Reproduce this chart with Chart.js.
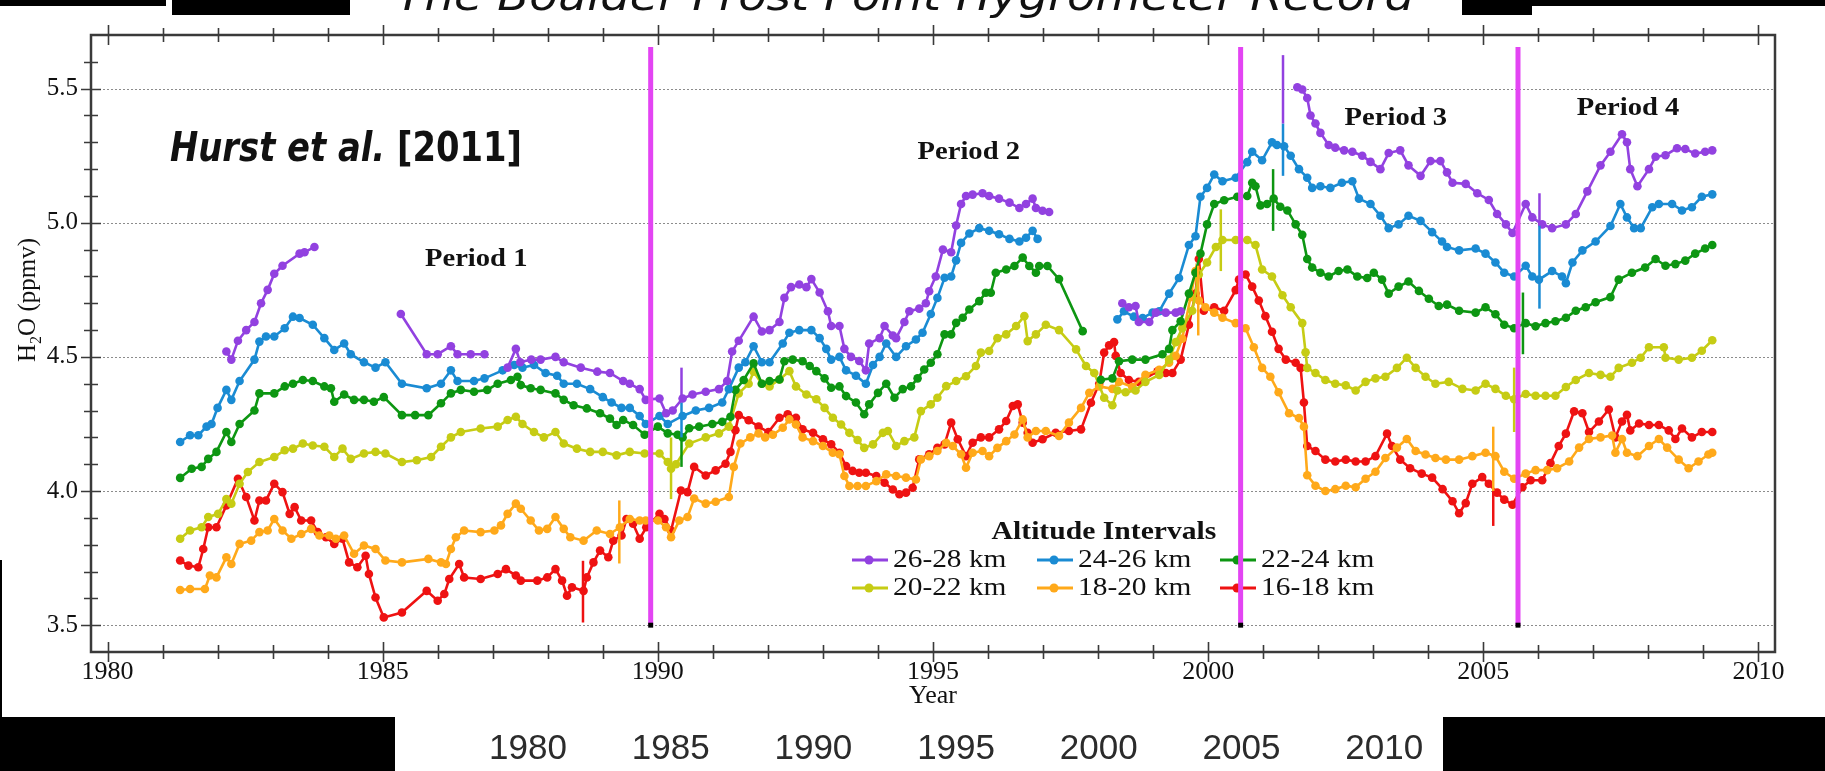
<!DOCTYPE html>
<html>
<head>
<meta charset="utf-8">
<title>Boulder FPH record</title>
<script src="https://cdn.jsdelivr.net/npm/chart.js@4.4.1/dist/chart.umd.min.js"></script>
<style>
  html, body { margin: 0; padding: 0; background: #fff; }
  body { width: 1825px; height: 771px; position: relative; overflow: hidden; }
  #c { position: absolute; left: 0; top: 0; }
  .blk { position: absolute; background: #000; }
  #ttl {
    position: absolute; left: 396px; top: -24px;
    font: italic 40px "DejaVu Sans"; line-height: 40px;
    white-space: nowrap; color: #111; transform-origin: 0 0;
  }
  .strip {
    position: absolute; top: 729px; width: 120px; margin-left: -60px;
    text-align: center; font: 35px "Liberation Sans"; line-height: 36px; color: #2b2b2b;
  }
</style>
</head>
<body>
<canvas id="c" width="1825" height="771"></canvas>
<div class="blk" style="left:0;top:0;width:166px;height:6px"></div>
<div class="blk" style="left:172px;top:0;width:178px;height:15px"></div>
<div id="ttl">The Boulder Frost Point Hygrometer Record</div>
<div class="blk" style="left:1462px;top:0;width:70px;height:15px"></div>
<div class="blk" style="left:1532px;top:0;width:293px;height:6px"></div>
<div class="blk" style="left:0;top:560px;width:2px;height:157px"></div>
<div class="blk" style="left:0;top:717px;width:395px;height:54px"></div>
<div class="blk" style="left:1443px;top:717px;width:382px;height:54px"></div>
<div id="stripRow"></div>
<script>
// axis ticks
const xTickYears = [1980, 1985, 1990, 1995, 2000, 2005, 2010];
const yTickVals = [3.5, 4.0, 4.5, 5.0, 5.5];
const stripYears = [1980, 1985, 1990, 1995, 2000, 2005, 2010];

// altitude bands, legend order
const bandLabels = ['26-28 km', '24-26 km', '22-24 km', '20-22 km', '18-20 km', '16-18 km'];
const bandColors = ['#9241e0', '#1a8bd3', '#0d9612', '#c6cc14', '#ffa91a', '#ee1212'];

// [year, ppmv]; null breaks the line
const alt26_28 = [
  [1982.16,4.52],[1982.25,4.49],[1982.37,4.56],[1982.52,4.60],[1982.67,4.63],[1982.79,4.70],[1982.91,4.75],
  [1983.03,4.81],[1983.18,4.84],[1983.49,4.885],[1983.58,4.89],[1983.76,4.91],[1984.5,null],
  [1985.33,4.66],[1985.8,4.51],[1986.0,4.51],[1986.24,4.54],[1986.36,4.51],[1986.6,4.51],[1986.85,4.51],[1987.05,null],
  [1987.27,4.46],[1987.42,4.53],[1987.5,4.48],[1987.7,4.49],[1987.87,4.49],[1988.14,4.50],[1988.29,4.48],[1988.6,4.46],
  [1988.9,4.445],[1989.13,4.44],[1989.37,4.41],[1989.49,4.40],[1989.67,4.38],[1989.78,4.34],[1990.03,4.345],[1990.15,4.29],
  [1990.27,4.30],[1990.45,4.345],[1990.63,4.36],[1990.87,4.37],[1991.11,4.38],[1991.26,4.41],[1991.35,4.52],[1991.47,4.56],
  [1991.74,4.65],[1991.89,4.595],[1992.03,4.60],[1992.21,4.63],[1992.3,4.72],[1992.42,4.76],[1992.57,4.77],[1992.7,4.76],
  [1992.79,4.79],[1992.94,4.74],[1993.09,4.67],[1993.15,4.615],[1993.3,4.615],[1993.39,4.53],[1993.51,4.50],[1993.66,4.485],
  [1993.78,4.45],[1993.84,4.55],[1994.03,4.57],[1994.12,4.615],[1994.27,4.58],[1994.33,4.57],[1994.48,4.63],[1994.57,4.67],
  [1994.75,4.68],[1994.87,4.70],[1994.93,4.745],[1995.05,4.80],[1995.18,4.90],[1995.33,4.89],[1995.42,4.99],[1995.51,5.07],
  [1995.6,5.10],[1995.72,5.105],[1995.9,5.11],[1996.02,5.10],[1996.2,5.09],[1996.39,5.075],[1996.57,5.055],[1996.69,5.07],
  [1996.81,5.09],[1996.87,5.055],[1996.99,5.045],[1997.11,5.04],[1997.8,null],
  [1998.44,4.70],[1998.56,4.685],[1998.68,4.69],[1998.74,4.63],[1998.93,4.63],[1999.05,4.665],[1999.23,4.665],[1999.41,4.665],
  [1999.5,4.67],[2000.5,null],
  [2001.62,5.505],[2001.71,5.497],[2001.8,5.465],[2001.86,5.40],[2001.95,5.37],[2002.04,5.335],[2002.19,5.29],[2002.31,5.28],
  [2002.47,5.27],[2002.62,5.265],[2002.8,5.25],[2002.95,5.227],[2003.13,5.20],[2003.28,5.26],[2003.49,5.27],[2003.64,5.214],
  [2003.86,5.175],[2004.04,5.23],[2004.22,5.23],[2004.34,5.188],[2004.44,5.149],[2004.68,5.145],[2004.89,5.11],[2005.1,5.085],
  [2005.25,5.033],[2005.41,4.994],[2005.53,4.962],[2005.77,5.07],[2005.89,5.02],[2006.07,4.994],[2006.25,4.98],[2006.5,4.994],
  [2006.68,5.033],[2006.89,5.117],[2007.13,5.214],[2007.31,5.265],[2007.52,5.33],[2007.61,5.30],[2007.67,5.20],[2007.8,5.136],
  [2008.01,5.20],[2008.13,5.246],[2008.31,5.252],[2008.52,5.278],[2008.67,5.275],[2008.85,5.258],[2009.03,5.265],[2009.16,5.27]
];

const alt24_26 = [
  [1981.32,4.183],[1981.5,4.208],[1981.65,4.208],[1981.8,4.24],[1981.89,4.25],[1982.0,4.31],[1982.16,4.377],[1982.25,4.34],
  [1982.4,4.41],[1982.67,4.49],[1982.76,4.557],[1982.88,4.576],[1983.03,4.576],[1983.22,4.607],[1983.37,4.65],[1983.49,4.645],
  [1983.73,4.62],[1983.94,4.57],[1984.12,4.526],[1984.3,4.55],[1984.42,4.51],[1984.66,4.48],[1984.87,4.46],[1985.05,4.48],
  [1985.35,4.40],[1985.8,4.383],[1986.06,4.40],[1986.24,4.45],[1986.36,4.41],[1986.66,4.41],[1986.85,4.42],[1987.18,4.45],
  [1987.39,4.47],[1987.54,4.46],[1987.75,4.47],[1987.96,4.44],[1988.17,4.43],[1988.29,4.40],[1988.53,4.40],[1988.77,4.38],
  [1989.0,4.35],[1989.16,4.33],[1989.34,4.31],[1989.49,4.31],[1989.67,4.28],[1989.78,4.25],[1990.03,4.28],[1990.18,4.25],
  [1990.45,4.28],[1990.69,4.30],[1990.93,4.31],[1991.17,4.33],[1991.29,4.38],[1991.47,4.46],[1991.59,4.48],[1991.74,4.54],
  [1991.89,4.48],[1992.03,4.48],[1992.27,4.55],[1992.39,4.59],[1992.57,4.60],[1992.79,4.60],[1992.94,4.57],[1993.06,4.53],
  [1993.15,4.49],[1993.3,4.50],[1993.42,4.45],[1993.6,4.43],[1993.78,4.40],[1993.91,4.47],[1994.03,4.50],[1994.15,4.55],
  [1994.33,4.50],[1994.51,4.54],[1994.69,4.565],[1994.81,4.59],[1994.96,4.66],[1995.08,4.72],[1995.21,4.795],[1995.33,4.80],
  [1995.42,4.86],[1995.51,4.925],[1995.66,4.96],[1995.84,4.98],[1996.02,4.97],[1996.2,4.957],[1996.39,4.94],[1996.57,4.93],
  [1996.69,4.944],[1996.81,4.97],[1996.9,4.94],[1997.6,null],
  [1998.35,4.64],[1998.47,4.67],[1998.65,4.65],[1998.81,4.645],[1998.99,4.665],[1999.11,4.67],[1999.29,4.736],[1999.47,4.794],
  [1999.65,4.917],[1999.77,4.95],[1999.86,5.097],[1999.98,5.13],[2000.11,5.18],[2000.26,5.155],[2000.5,5.168],[2000.71,5.226],
  [2000.8,5.265],[2000.98,5.233],[2001.16,5.30],[2001.25,5.29],[2001.38,5.285],[2001.5,5.25],[2001.65,5.20],[2001.8,5.168],
  [2001.89,5.13],[2002.04,5.136],[2002.22,5.13],[2002.43,5.149],[2002.62,5.155],[2002.74,5.09],[2002.95,5.07],[2003.13,5.026],
  [2003.28,4.98],[2003.46,4.994],[2003.64,5.026],[2003.86,5.007],[2004.07,4.965],[2004.25,4.93],[2004.34,4.91],[2004.56,4.897],
  [2004.86,4.904],[2005.04,4.885],[2005.22,4.852],[2005.38,4.814],[2005.56,4.80],[2005.77,4.84],[2005.89,4.80],[2006.01,4.788],
  [2006.25,4.82],[2006.43,4.80],[2006.5,4.775],[2006.62,4.852],[2006.8,4.897],[2007.04,4.93],[2007.31,4.988],[2007.49,5.07],
  [2007.61,5.02],[2007.74,4.98],[2007.86,4.98],[2008.07,5.058],[2008.19,5.07],[2008.43,5.07],[2008.61,5.046],[2008.79,5.058],
  [2008.97,5.097],[2009.16,5.106]
];

const alt22_24 = [
  [1981.32,4.049],[1981.53,4.083],[1981.71,4.09],[1981.83,4.12],[1981.98,4.146],[1982.16,4.22],[1982.25,4.183],[1982.4,4.25],
  [1982.67,4.30],[1982.76,4.364],[1983.03,4.364],[1983.22,4.39],[1983.37,4.40],[1983.55,4.414],[1983.73,4.41],[1983.94,4.39],
  [1984.06,4.383],[1984.12,4.333],[1984.3,4.36],[1984.48,4.34],[1984.66,4.34],[1984.84,4.333],[1985.02,4.35],[1985.35,4.283],
  [1985.59,4.283],[1985.83,4.283],[1986.06,4.327],[1986.24,4.364],[1986.42,4.377],[1986.66,4.37],[1986.9,4.377],[1987.09,4.40],
  [1987.33,4.414],[1987.45,4.426],[1987.51,4.395],[1987.69,4.383],[1987.87,4.377],[1988.14,4.364],[1988.29,4.34],[1988.47,4.32],
  [1988.71,4.308],[1988.95,4.29],[1989.13,4.27],[1989.25,4.246],[1989.37,4.265],[1989.55,4.246],[1989.76,4.21],[1990.0,4.24],
  [1990.18,4.215],[1990.36,4.21],[1990.45,4.20],[1990.57,4.234],[1990.75,4.24],[1990.99,4.25],[1991.17,4.258],[1991.32,4.277],
  [1991.41,4.377],[1991.56,4.414],[1991.74,4.476],[1991.89,4.40],[1992.03,4.41],[1992.21,4.416],[1992.3,4.484],[1992.45,4.49],
  [1992.63,4.484],[1992.76,4.466],[1992.88,4.447],[1993.03,4.42],[1993.15,4.385],[1993.3,4.39],[1993.42,4.354],[1993.6,4.33],
  [1993.75,4.286],[1993.84,4.323],[1994.0,4.366],[1994.15,4.40],[1994.3,4.348],[1994.45,4.38],[1994.6,4.39],[1994.72,4.42],
  [1994.84,4.453],[1994.96,4.478],[1995.08,4.51],[1995.21,4.584],[1995.33,4.584],[1995.42,4.627],[1995.54,4.646],[1995.66,4.677],
  [1995.84,4.708],[1995.96,4.739],[1996.05,4.739],[1996.14,4.814],[1996.33,4.826],[1996.48,4.839],[1996.63,4.87],[1996.75,4.839],
  [1996.87,4.814],[1996.93,4.839],[1997.08,4.839],[1997.29,4.79],[1997.72,4.596],[1997.9,null],
  [1998.05,4.415],[1998.26,4.42],[1998.38,4.484],[1998.62,4.49],[1998.86,4.49],[1999.17,4.51],[1999.29,4.53],[1999.35,4.60],
  [1999.5,4.633],[1999.65,4.736],[1999.77,4.814],[1999.86,4.885],[1999.98,4.994],[2000.11,5.07],[2000.29,5.084],[2000.53,5.097],
  [2000.71,5.10],[2000.8,5.149],[2000.86,5.136],[2000.95,5.065],[2001.07,5.07],[2001.19,5.09],[2001.31,5.06],[2001.44,5.046],
  [2001.59,4.994],[2001.71,4.955],[2001.8,4.865],[2001.89,4.833],[2002.04,4.814],[2002.19,4.80],[2002.37,4.82],[2002.53,4.826],
  [2002.71,4.80],[2002.89,4.794],[2003.01,4.814],[2003.16,4.788],[2003.28,4.736],[2003.46,4.762],[2003.64,4.781],[2003.83,4.746],
  [2004.01,4.717],[2004.19,4.69],[2004.34,4.695],[2004.56,4.672],[2004.86,4.665],[2005.04,4.685],[2005.22,4.659],[2005.38,4.62],
  [2005.56,4.607],[2005.77,4.626],[2005.95,4.614],[2006.13,4.626],[2006.31,4.633],[2006.5,4.646],[2006.68,4.672],[2006.86,4.685],
  [2007.04,4.704],[2007.31,4.723],[2007.46,4.788],[2007.7,4.814],[2007.94,4.833],[2008.13,4.865],[2008.31,4.84],[2008.49,4.846],
  [2008.67,4.859],[2008.85,4.885],[2009.03,4.904],[2009.16,4.917]
];

const alt20_22 = [
  [1981.32,3.822],[1981.5,3.853],[1981.71,3.865],[1981.83,3.903],[1982.01,3.915],[1982.16,3.97],[1982.25,3.953],[1982.4,4.027],
  [1982.55,4.071],[1982.76,4.108],[1983.03,4.127],[1983.22,4.152],[1983.37,4.158],[1983.55,4.177],[1983.73,4.17],[1983.94,4.165],
  [1984.12,4.127],[1984.27,4.158],[1984.42,4.12],[1984.66,4.14],[1984.87,4.146],[1985.05,4.14],[1985.35,4.108],[1985.62,4.115],
  [1985.88,4.127],[1986.06,4.165],[1986.24,4.20],[1986.42,4.22],[1986.78,4.233],[1987.09,4.24],[1987.27,4.265],[1987.42,4.277],
  [1987.54,4.25],[1987.75,4.22],[1987.93,4.20],[1988.14,4.22],[1988.29,4.177],[1988.53,4.158],[1988.77,4.146],[1989.0,4.146],
  [1989.25,4.133],[1989.49,4.146],[1989.76,4.14],[1990.03,4.14],[1990.18,4.108],[1990.24,4.083],[1990.33,4.10],[1990.57,4.177],
  [1990.87,4.20],[1991.11,4.215],[1991.29,4.24],[1991.47,4.364],[1991.65,4.40],[1991.74,4.445],[1991.89,4.40],[1992.03,4.39],
  [1992.21,4.416],[1992.39,4.447],[1992.51,4.39],[1992.7,4.36],[1992.88,4.342],[1993.03,4.31],[1993.18,4.273],[1993.33,4.248],
  [1993.48,4.217],[1993.63,4.19],[1993.75,4.161],[1993.91,4.174],[1994.09,4.217],[1994.18,4.224],[1994.33,4.168],[1994.48,4.186],
  [1994.66,4.20],[1994.78,4.298],[1994.96,4.323],[1995.08,4.348],[1995.24,4.391],[1995.42,4.41],[1995.6,4.428],[1995.78,4.466],
  [1995.87,4.516],[1996.02,4.522],[1996.17,4.57],[1996.33,4.584],[1996.51,4.615],[1996.66,4.652],[1996.72,4.559],[1996.87,4.584],
  [1997.05,4.62],[1997.29,4.60],[1997.6,4.528],[1997.78,4.466],[1997.93,4.44],[1998.11,4.348],[1998.26,4.32],[1998.35,4.375],
  [1998.5,4.368],[1998.68,4.375],[1998.86,4.407],[1999.11,4.433],[1999.29,4.49],[1999.41,4.555],[1999.53,4.607],[1999.71,4.672],
  [1999.83,4.807],[1999.98,4.852],[2000.14,4.91],[2000.26,4.936],[2000.5,4.936],[2000.71,4.936],[2000.86,4.917],[2000.98,4.826],
  [2001.16,4.80],[2001.35,4.73],[2001.5,4.685],[2001.71,4.626],[2001.77,4.517],[2001.8,4.459],[2001.95,4.44],[2002.13,4.414],
  [2002.31,4.40],[2002.5,4.394],[2002.68,4.375],[2002.86,4.407],[2003.04,4.42],[2003.22,4.426],[2003.43,4.459],[2003.61,4.497],
  [2003.77,4.459],[2003.95,4.426],[2004.13,4.40],[2004.37,4.407],[2004.62,4.381],[2004.86,4.375],[2005.04,4.40],[2005.22,4.381],
  [2005.41,4.355],[2005.56,4.342],[2005.77,4.362],[2005.95,4.355],[2006.13,4.355],[2006.31,4.355],[2006.5,4.388],[2006.68,4.414],
  [2006.92,4.44],[2007.13,4.433],[2007.31,4.426],[2007.46,4.459],[2007.7,4.478],[2007.86,4.497],[2008.01,4.536],[2008.28,4.536],
  [2008.31,4.497],[2008.55,4.49],[2008.79,4.497],[2008.97,4.523],[2009.16,4.562]
];

const alt18_20 = [
  [1981.32,3.631],[1981.5,3.635],[1981.77,3.635],[1981.86,3.685],[1981.98,3.678],[1982.16,3.753],[1982.25,3.728],[1982.4,3.803],
  [1982.61,3.815],[1982.76,3.847],[1982.91,3.853],[1983.03,3.896],[1983.18,3.853],[1983.34,3.822],[1983.52,3.84],[1983.7,3.859],
  [1983.85,3.834],[1984.03,3.834],[1984.15,3.822],[1984.3,3.834],[1984.48,3.766],[1984.66,3.797],[1984.87,3.784],[1985.05,3.741],
  [1985.35,3.734],[1985.83,3.747],[1986.06,3.734],[1986.15,3.728],[1986.24,3.784],[1986.33,3.828],[1986.48,3.853],[1986.78,3.847],
  [1987.03,3.853],[1987.15,3.872],[1987.27,3.915],[1987.42,3.953],[1987.51,3.934],[1987.69,3.89],[1987.84,3.853],[1987.99,3.859],
  [1988.14,3.903],[1988.29,3.859],[1988.41,3.828],[1988.65,3.815],[1988.89,3.853],[1989.13,3.84],[1989.31,3.865],[1989.49,3.896],
  [1989.67,3.89],[1989.78,3.89],[1990.0,3.89],[1990.15,3.865],[1990.24,3.828],[1990.39,3.89],[1990.54,3.903],[1990.66,3.972],
  [1990.87,3.953],[1991.05,3.96],[1991.29,3.978],[1991.38,4.09],[1991.5,4.177],[1991.68,4.20],[1991.83,4.215],[1991.95,4.20],
  [1992.09,4.21],[1992.27,4.236],[1992.39,4.267],[1992.51,4.248],[1992.63,4.20],[1992.82,4.186],[1993.0,4.168],[1993.18,4.143],
  [1993.3,4.137],[1993.39,4.056],[1993.48,4.019],[1993.63,4.019],[1993.78,4.019],[1993.97,4.037],[1994.15,4.062],[1994.33,4.056],
  [1994.51,4.05],[1994.69,4.043],[1994.78,4.118],[1994.93,4.13],[1995.08,4.149],[1995.24,4.18],[1995.36,4.168],[1995.51,4.137],
  [1995.6,4.087],[1995.72,4.143],[1995.9,4.149],[1996.02,4.13],[1996.17,4.161],[1996.33,4.186],[1996.48,4.211],[1996.63,4.267],
  [1996.72,4.20],[1996.87,4.224],[1997.05,4.224],[1997.29,4.205],[1997.47,4.255],[1997.69,4.31],[1997.84,4.366],[1998.02,4.39],
  [1998.26,4.381],[1998.38,4.407],[1998.62,4.388],[1998.86,4.433],[1999.11,4.452],[1999.29,4.478],[1999.41,4.504],[1999.53,4.568],
  [1999.68,4.723],[1999.77,4.82],[1999.83,4.71],[1999.95,4.685],[2000.11,4.665],[2000.26,4.646],[2000.5,4.626],[2000.68,4.607],
  [2000.83,4.536],[2000.98,4.459],[2001.13,4.426],[2001.28,4.368],[2001.47,4.29],[2001.65,4.272],[2001.74,4.24],[2001.8,4.059],
  [2001.95,4.02],[2002.13,4.0],[2002.31,4.007],[2002.5,4.02],[2002.68,4.014],[2002.86,4.046],[2003.04,4.072],[2003.22,4.123],
  [2003.43,4.162],[2003.61,4.194],[2003.77,4.149],[2003.95,4.136],[2004.13,4.123],[2004.32,4.117],[2004.56,4.117],[2004.8,4.13],
  [2005.04,4.143],[2005.22,4.13],[2005.38,4.072],[2005.56,4.046],[2005.77,4.065],[2005.95,4.078],[2006.16,4.078],[2006.34,4.085],
  [2006.56,4.11],[2006.74,4.162],[2006.92,4.194],[2007.13,4.20],[2007.34,4.207],[2007.4,4.143],[2007.52,4.194],[2007.61,4.143],
  [2007.8,4.13],[2008.01,4.168],[2008.19,4.194],[2008.34,4.162],[2008.55,4.117],[2008.73,4.085],[2008.91,4.11],[2009.09,4.136],
  [2009.16,4.143]
];

const alt16_18 = [
  [1981.32,3.741],[1981.47,3.722],[1981.65,3.716],[1981.74,3.784],[1981.83,3.865],[1981.98,3.865],[1982.16,3.946],[1982.37,4.046],
  [1982.52,3.978],[1982.67,3.89],[1982.76,3.965],[1982.88,3.965],[1983.03,4.027],[1983.18,3.996],[1983.31,3.915],[1983.4,3.94],
  [1983.52,3.89],[1983.7,3.89],[1983.82,3.847],[1983.97,3.828],[1984.12,3.803],[1984.27,3.822],[1984.39,3.734],[1984.54,3.716],
  [1984.69,3.759],[1984.75,3.691],[1984.87,3.603],[1985.02,3.529],[1985.35,3.547],[1985.8,3.628],[1986.0,3.591],[1986.12,3.616],
  [1986.21,3.672],[1986.39,3.728],[1986.48,3.678],[1986.78,3.672],[1987.09,3.691],[1987.24,3.709],[1987.42,3.685],[1987.51,3.666],
  [1987.81,3.666],[1987.99,3.678],[1988.14,3.709],[1988.26,3.666],[1988.35,3.61],[1988.44,3.641],[1988.65,3.628],[1988.71,3.678],
  [1988.83,3.734],[1988.95,3.778],[1989.1,3.753],[1989.19,3.815],[1989.34,3.834],[1989.43,3.896],[1989.55,3.878],[1989.67,3.822],
  [1989.79,3.865],[1990.03,3.915],[1990.12,3.896],[1990.24,3.853],[1990.42,4.002],[1990.54,3.996],[1990.66,4.09],[1990.87,4.058],
  [1991.05,4.077],[1991.23,4.102],[1991.32,4.146],[1991.41,4.227],[1991.47,4.283],[1991.65,4.264],[1991.83,4.24],[1992.01,4.22],
  [1992.21,4.273],[1992.36,4.286],[1992.51,4.273],[1992.63,4.23],[1992.82,4.217],[1993.0,4.193],[1993.15,4.174],[1993.3,4.143],
  [1993.42,4.093],[1993.54,4.075],[1993.66,4.068],[1993.78,4.068],[1993.97,4.056],[1994.12,4.031],[1994.27,4.006],[1994.39,3.988],
  [1994.51,3.994],[1994.63,4.012],[1994.75,4.118],[1994.93,4.137],[1995.08,4.161],[1995.21,4.174],[1995.33,4.255],[1995.45,4.193],
  [1995.6,4.13],[1995.72,4.18],[1995.87,4.20],[1996.02,4.20],[1996.2,4.23],[1996.33,4.261],[1996.45,4.317],[1996.54,4.323],
  [1996.63,4.255],[1996.72,4.217],[1996.81,4.18],[1996.99,4.193],[1997.23,4.217],[1997.47,4.224],[1997.69,4.23],[1997.87,4.329],
  [1998.02,4.40],[1998.11,4.516],[1998.2,4.543],[1998.29,4.555],[1998.32,4.504],[1998.41,4.44],[1998.56,4.414],[1998.74,4.407],
  [1999.08,4.446],[1999.23,4.44],[1999.35,4.44],[1999.5,4.49],[1999.65,4.62],[1999.77,4.736],[1999.83,4.865],[1999.92,4.672],
  [2000.11,4.685],[2000.29,4.672],[2000.5,4.749],[2000.56,4.788],[2000.68,4.807],[2000.8,4.762],[2000.92,4.71],[2001.04,4.652],
  [2001.16,4.594],[2001.28,4.53],[2001.41,4.49],[2001.59,4.478],[2001.68,4.459],[2001.74,4.33],[2001.8,4.168],[2001.95,4.149],
  [2002.13,4.117],[2002.31,4.11],[2002.5,4.117],[2002.68,4.11],[2002.86,4.11],[2003.04,4.13],[2003.25,4.214],[2003.34,4.168],
  [2003.49,4.117],[2003.67,4.085],[2003.88,4.065],[2004.07,4.05],[2004.26,4.007],[2004.44,3.962],[2004.56,3.917],[2004.68,3.955],
  [2004.8,4.027],[2004.98,4.052],[2005.1,4.027],[2005.25,3.994],[2005.38,3.968],[2005.53,3.949],[2005.71,4.014],[2005.86,4.04],
  [2006.07,4.04],[2006.22,4.104],[2006.37,4.168],[2006.5,4.214],[2006.65,4.297],[2006.8,4.29],[2006.92,4.22],[2007.1,4.259],
  [2007.28,4.304],[2007.4,4.20],[2007.52,4.259],[2007.61,4.284],[2007.67,4.226],[2007.83,4.252],[2008.01,4.246],[2008.19,4.246],
  [2008.37,4.226],[2008.49,4.194],[2008.61,4.233],[2008.79,4.20],[2008.97,4.22],[2009.16,4.22]
];

const bandSeries = [alt26_28, alt24_26, alt22_24, alt20_22, alt18_20, alt16_18];

// uncertainty bars: [year, low, high, band index]
const errBars = [
  [1988.64,3.51,3.74,5],[1989.30,3.73,3.965,4],[1990.24,3.97,4.20,3],
  [1990.43,4.33,4.46,0],[1990.43,4.20,4.33,1],[1990.43,4.09,4.20,2],
  [1999.82,4.58,4.84,4],[2000.23,4.82,5.05,3],[2001.18,4.97,5.20,2],
  [2001.36,5.37,5.625,0],[2001.36,5.175,5.37,1],
  [2005.18,4.00,4.24,4],[2005.18,3.87,4.00,5],[2005.56,4.22,4.46,3],
  [2005.72,4.51,4.74,2],[2006.02,4.99,5.11,0],[2006.02,4.68,4.99,1]
];

// period boundaries and their names
const periodBreaks = [1989.87, 2000.59, 2005.63];
const periodNames = ['Period 1', 'Period 2', 'Period 3', 'Period 4'];
const periodLabelAt = [[1986.70, 4.865], [1995.65, 5.264], [2003.41, 5.391], [2007.63, 5.428]];

const breakLow = 3.5, breakHigh = 5.655;
const magenta = '#e344f3';

// bottom strip of year labels
const stripRow = document.getElementById('stripRow');
stripYears.forEach((yr, i) => {
    const d = document.createElement('div');
    d.className = 'strip';
    d.style.left = (528 + i * 142.7) + 'px';
    d.textContent = yr;
    stripRow.appendChild(d);
});

// squeeze the title into its slot
const ttl = document.getElementById('ttl');
ttl.style.transform = 'scaleX(' + (1018 / ttl.getBoundingClientRect().width) + ')';

// text stretched sideways like the original figure
function wideText(ctx, str, x, y, font, sx, align) {
    ctx.save();
    ctx.font = font;
    ctx.translate(x, y);
    ctx.scale(sx, 1);
    ctx.textAlign = align || 'center';
    ctx.fillText(str, 0, 0);
    ctx.restore();
}

const decorations = {
    id: 'decorations',
    beforeDatasetsDraw(chart) {
        const { ctx, chartArea: a, scales: { x, y } } = chart;

        // dotted grid lines
        ctx.save();
        ctx.strokeStyle = '#8c8c8c';
        ctx.lineWidth = 1;
        ctx.setLineDash([2, 2]);
        yTickVals.forEach(v => {
            const py = Math.round(y.getPixelForValue(v)) + 0.5;
            ctx.beginPath();
            ctx.moveTo(a.left, py);
            ctx.lineTo(a.right, py);
            ctx.stroke();
        });
        ctx.restore();

        ctx.save();
        ctx.fillStyle = '#111';
        ctx.textBaseline = 'middle';

        // period names
        periodNames.forEach((name, i) => {
            const p = periodLabelAt[i];
            wideText(ctx, name, x.getPixelForValue(p[0]), y.getPixelForValue(p[1]),
                'bold 26px "Liberation Serif"', 1.1);
        });

        // legend box
        wideText(ctx, 'Altitude Intervals', 1104, 532, 'bold 26px "Liberation Serif"', 1.14);
        const colX = [852, 1037, 1220];
        const rowY = [560, 588];
        bandLabels.forEach((lab, i) => {
            const lx = colX[i % 3], ly = rowY[Math.floor(i / 3)];
            ctx.strokeStyle = bandColors[i];
            ctx.lineWidth = 3;
            ctx.beginPath();
            ctx.moveTo(lx, ly);
            ctx.lineTo(lx + 36, ly);
            ctx.stroke();
            ctx.fillStyle = bandColors[i];
            ctx.beginPath();
            ctx.arc(lx + 17, ly, 4.5, 0, Math.PI * 2);
            ctx.fill();
            ctx.fillStyle = '#111';
            wideText(ctx, lab, lx + 41, ly, '26px "Liberation Serif"', 1.13, 'left');
        });

        // citation
        ctx.textBaseline = 'alphabetic';
        ctx.font = 'bold italic 40px "DejaVu Sans"';
        const w1 = ctx.measureText('Hurst et al.').width;
        ctx.font = 'bold 40px "DejaVu Sans"';
        const w2 = ctx.measureText(' [2011]').width;
        ctx.save();
        ctx.translate(170, 161);
        ctx.scale(352 / (w1 + w2), 1);
        ctx.font = 'bold italic 40px "DejaVu Sans"';
        ctx.fillText('Hurst et al.', 0, 0);
        ctx.font = 'bold 40px "DejaVu Sans"';
        ctx.fillText(' [2011]', w1, 0);
        ctx.restore();

        // axis titles
        ctx.textAlign = 'center';
        ctx.font = '26px "Liberation Serif"';
        ctx.fillText('Year', (a.left + a.right) / 2, 703);

        ctx.save();
        ctx.translate(27, 300);
        ctx.rotate(-Math.PI / 2);
        ctx.textAlign = 'left';
        const big = '25px "Liberation Serif"', small = '16px "Liberation Serif"';
        ctx.font = big;
        const wH = ctx.measureText('H').width, wRest = ctx.measureText('O (ppmv)').width;
        ctx.font = small;
        const wSub = ctx.measureText('2').width;
        let cx = -(wH + wSub + wRest) / 2;
        ctx.font = big;
        ctx.fillText('H', cx, 8);
        cx += wH;
        ctx.font = small;
        ctx.fillText('2', cx, 14);
        cx += wSub;
        ctx.font = big;
        ctx.fillText('O (ppmv)', cx, 8);
        ctx.restore();

        ctx.restore();
    },
    afterDraw(chart) {
        const { ctx, chartArea: a, scales: { x, y } } = chart;
        ctx.save();
        ctx.strokeStyle = '#3a3a3a';
        ctx.lineWidth = 2.5;
        ctx.strokeRect(a.left, a.top, a.right - a.left, a.bottom - a.top);

        // tick marks crossing the axes
        ctx.lineWidth = 1.6;
        ctx.beginPath();
        for (let yr = 1980; yr <= 2010; yr++) {
            const px = Math.round(x.getPixelForValue(yr)) + 0.5;
            const len = yr % 5 === 0 ? 10 : 7;
            ctx.moveTo(px, a.top - len);
            ctx.lineTo(px, a.top + len);
            ctx.moveTo(px, a.bottom - len);
            ctx.lineTo(px, a.bottom + len);
        }
        for (let k = 35; k <= 56; k++) {
            const py = Math.round(y.getPixelForValue(k / 10)) + 0.5;
            const len = k % 5 === 0 ? 10 : 7;
            ctx.moveTo(a.left - len, py);
            ctx.lineTo(a.left + len, py);
        }
        ctx.stroke();
        ctx.restore();
    }
};

// data series
const datasets = bandSeries.map((series, i) => ({
    label: bandLabels[i],
    data: series.map(p => ({ x: p[0], y: p[1] })),
    borderColor: bandColors[i],
    backgroundColor: bandColors[i],
    borderWidth: 2.6,
    pointRadius: 4.3,
    pointBorderWidth: 0,
    pointBackgroundColor: bandColors[i],
    spanGaps: false,
    order: 2
}));

errBars.forEach(b => {
    datasets.push({
        data: [{ x: b[0], y: b[1] }, { x: b[0], y: b[2] }],
        borderColor: bandColors[b[3]],
        borderWidth: 2.5,
        pointRadius: 0,
        order: 1
    });
});

periodBreaks.forEach(yr => {
    datasets.push({
        data: [{ x: yr, y: breakLow }, { x: yr, y: breakHigh }],
        borderColor: magenta,
        borderWidth: 5,
        pointStyle: 'rect',
        pointRadius: ctx => ctx.dataIndex === 0 ? 3.5 : 0,
        pointBackgroundColor: '#000',
        pointBorderWidth: 0,
        order: 0
    });
});

new Chart(document.getElementById('c'), {
    type: 'line',
    data: { datasets: datasets },
    options: {
        responsive: false,
        animation: false,
        devicePixelRatio: 1,
        layout: { padding: { left: 0, right: 50, top: 35, bottom: 79 } },
        elements: { line: { tension: 0 } },
        plugins: { legend: { display: false }, tooltip: { enabled: false } },
        scales: {
            x: {
                type: 'linear',
                min: 1979.7,
                max: 2010.3,
                afterBuildTicks: s => { s.ticks = xTickYears.map(v => ({ value: v })); },
                afterFit: s => { s.height = 40; },
                grid: { display: false, drawTicks: false },
                border: { display: false },
                ticks: {
                    font: { family: 'Liberation Serif', size: 26 },
                    color: '#111',
                    padding: 5,
                    maxRotation: 0,
                    callback: v => String(v)
                }
            },
            y: {
                min: 3.4,
                max: 5.7,
                afterBuildTicks: s => { s.ticks = yTickVals.map(v => ({ value: v })); },
                afterFit: s => { s.width = 91; },
                grid: { display: false, drawTicks: false },
                border: { display: false },
                ticks: {
                    font: { family: 'Liberation Serif', size: 25 },
                    color: '#111',
                    padding: 13,
                    callback: v => Number(v).toFixed(1)
                }
            }
        }
    },
    plugins: [decorations]
});
</script>
</body>
</html>
